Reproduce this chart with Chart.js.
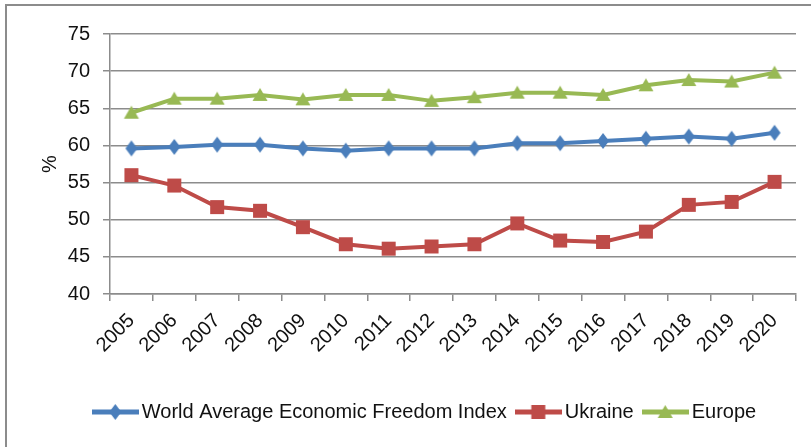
<!DOCTYPE html>
<html>
<head>
<meta charset="utf-8">
<script src="https://cdn.jsdelivr.net/npm/chart.js@4/dist/chart.umd.min.js"></script>
<style>
  html, body { margin: 0; padding: 0; background: #fff; }
  #wrap { position: relative; width: 811px; height: 447px; overflow: hidden; }
  #frame { position: absolute; left: 5px; top: 4px; width: 830px; height: 470px; border: 2px solid #8c8c8c; box-sizing: border-box; }
  #chart { position: absolute; left: 0; top: 0; }
</style>
</head>
<body>
<div id="wrap">
  <div id="frame"></div>
  <canvas id="chart" width="811" height="447"></canvas>
</div>
<script>
// Years on the x axis
const years = ['2005', '2006', '2007', '2008', '2009', '2010', '2011', '2012',
  '2013', '2014', '2015', '2016', '2017', '2018', '2019', '2020'];

// Index values
const worldAvg = [59.6, 59.8, 60.1, 60.1, 59.6, 59.3, 59.6, 59.6, 59.6, 60.3, 60.3, 60.6, 60.9, 61.2, 60.9, 61.7];
const ukraine = [56.0, 54.6, 51.7, 51.2, 49.0, 46.7, 46.1, 46.4, 46.7, 49.5, 47.2, 47.0, 48.4, 52.0, 52.4, 55.1];
const europe = [64.4, 66.3, 66.3, 66.8, 66.2, 66.8, 66.8, 66.0, 66.5, 67.1, 67.1, 66.8, 68.1, 68.8, 68.6, 69.8];

const yTicks = [40, 45, 50, 55, 60, 65, 70, 75];

const BLUE = '#4a7ebb';
const RED = '#be4b48';
const GREEN = '#98b954';

const FONT_FAMILY = "'Liberation Sans', Arial, sans-serif";
const tickFont = { family: FONT_FAMILY, size: 20 };

// marker shapes like the excel ones (diamond is taller than wide)
function drawShape(g, cx, cy, shape) {
  g.beginPath();
  if (shape === 'diamond') {
    g.moveTo(cx, cy - 8); g.lineTo(cx + 6, cy); g.lineTo(cx, cy + 8); g.lineTo(cx - 6, cy);
  } else if (shape === 'square') {
    g.rect(cx - 7, cy - 7, 14, 14);
  } else {
    g.moveTo(cx, cy - 7); g.lineTo(cx + 7.5, cy + 6); g.lineTo(cx - 7.5, cy + 6);
  }
  g.closePath();
  g.fill();
}

function marker(color, shape) {
  const c = document.createElement('canvas');
  c.width = 18;
  c.height = 18;
  const g = c.getContext('2d');
  g.fillStyle = color;
  drawShape(g, 9, 9, shape);
  return c;
}

function legendIcon(color, shape) {
  const c = document.createElement('canvas');
  c.width = 47;
  c.height = 18;
  const g = c.getContext('2d');
  g.strokeStyle = color;
  g.fillStyle = color;
  g.lineWidth = 5;
  g.beginPath();
  g.moveTo(0, 9);
  g.lineTo(47, 9);
  g.stroke();
  drawShape(g, 23.5, 9, shape);
  return c;
}

const shapes = ['diamond', 'square', 'triangle'];
const colors = [BLUE, RED, GREEN];
const markers = shapes.map((s, i) => marker(colors[i], s));
const legendIcons = shapes.map((s, i) => legendIcon(colors[i], s));

// legend drawn by hand so it sits where the excel one does
const LEGEND_CX = 424;
const LEGEND_Y = 412;
const excelLegend = {
  id: 'excelLegend',
  afterDraw(chart) {
    const g = chart.ctx;
    g.save();
    g.font = '20px ' + FONT_FAMILY;
    g.fillStyle = '#111';
    g.textBaseline = 'middle';
    const items = chart.data.datasets.map((ds, i) => ({
      text: ds.label,
      icon: legendIcons[i],
      w: 47 + 3 + g.measureText(ds.label).width
    }));
    const total = items.reduce((s, it) => s + it.w, 0) + 8 * (items.length - 1);
    let x = LEGEND_CX - total / 2;
    items.forEach(it => {
      g.drawImage(it.icon, x, LEGEND_Y - 9);
      g.fillText(it.text, x + 50, LEGEND_Y);
      x += it.w + 8;
    });
    g.restore();
  }
};

const ctx = document.getElementById('chart').getContext('2d');
new Chart(ctx, {
  type: 'line',
  data: {
    labels: years,
    datasets: [
      { label: 'World Average Economic Freedom Index', data: worldAvg },
      { label: 'Ukraine', data: ukraine },
      { label: 'Europe', data: europe }
    ].map((ds, i) => Object.assign(ds, {
      borderColor: colors[i],
      backgroundColor: colors[i],
      borderWidth: 4,
      pointStyle: markers[i],
      pointRadius: 8
    }))
  },
  options: {
    responsive: false,
    animation: false,
    layout: { padding: { left: 38, right: 15, top: 34, bottom: 0 } },
    plugins: {
      tooltip: { enabled: false },
      legend: { display: false }
    },
    scales: {
      x: {
        offset: true,
        afterFit: axis => { axis.height = 153; },
        grid: {
          offset: true,
          drawOnChartArea: false,
          drawTicks: true,
          tickLength: 7,
          color: '#8c8c8c',
          lineWidth: 1.5
        },
        border: { color: '#8c8c8c', width: 1.5 },
        ticks: {
          minRotation: 45,
          maxRotation: 45,
          color: '#111',
          font: tickFont,
          padding: 8
        }
      },
      y: {
        min: 40,
        max: 75,
        afterBuildTicks: axis => { axis.ticks = yTicks.map(v => ({ value: v })); },
        afterFit: axis => { axis.width = 72; },
        title: { display: true, text: '%', color: '#111', font: tickFont, padding: 0 },
        grid: { color: '#8c8c8c', lineWidth: 1.5, tickLength: 7 },
        border: { color: '#8c8c8c', width: 1.5 },
        ticks: { color: '#111', font: tickFont, padding: 13 }
      }
    }
  },
  plugins: [excelLegend]
});
</script>
</body>
</html>
